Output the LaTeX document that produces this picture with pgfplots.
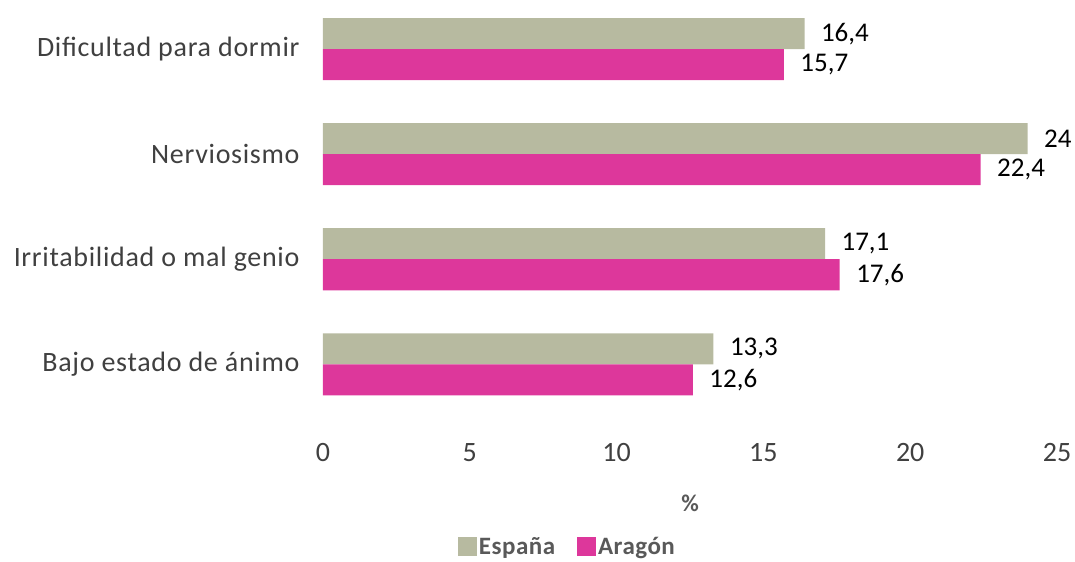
\documentclass[border=0pt]{standalone}
\usepackage{fontspec}
\setmainfont{Carlito}
\newfontfamily\catfont[LetterSpace=2.5]{Carlito}
\newfontfamily\legfont[LetterSpace=2]{Carlito}
\usepackage{pgfplots}
\pgfplotsset{compat=1.18}
\usetikzlibrary{calc}
\definecolor{espana}{RGB}{183,186,160}
\definecolor{aragon}{RGB}{221,55,155}
\definecolor{txt}{RGB}{64,64,64}
\definecolor{legtxt}{RGB}{89,89,89}
\begin{document}
\begin{tikzpicture}
\begin{axis}[
  name=ax,
  scale only axis,
  width=734bp, height=414.75bp,
  xbar, bar width=31bp,
  xmin=0, xmax=25,
  ymin=-0.5, ymax=3.45,
  xtick={0,5,10,15,20,25},
  ytick={0,1,2,3},
  yticklabels={Bajo estado de ánimo, Irritabilidad o mal genio, Nerviosismo, Dificultad para dormir},
  axis line style={draw=none},
  major tick length=0pt,
  xticklabel style={font=\fontsize{28bp}{32bp}\selectfont, text=txt, yshift=-23bp},
  yticklabel style={font=\catfont\fontsize{28bp}{32bp}\selectfont, text=txt, xshift=-20bp},
  /pgf/number format/assume math mode=true,
  xlabel={\textbf{\%}},
  xlabel style={at={(axis description cs:0.5,-0.2086)}, anchor=center, font=\fontsize{24bp}{28bp}\selectfont, text=legtxt},
  nodes near coords,
  nodes near coords style={font=\fontsize{27bp}{30bp}\selectfont, text=black, anchor=west, xshift=13bp},
  /pgf/number format/use comma,
  legend columns=2,
  legend style={draw=none, at={(axis description cs:0.333,-0.314)}, anchor=center, font=\legfont\bfseries\fontsize{25bp}{28bp}\selectfont, text=legtxt, /tikz/every even column/.append style={column sep=20bp}},
  legend image code/.code={\fill[#1] (0bp,-9bp) rectangle (19bp,10bp);},
]
\addplot[fill=espana, draw=none, bar shift=15.5bp] coordinates {(13.3,0) (17.1,1) (24,2) (16.4,3)};
\addplot[fill=aragon, draw=none, bar shift=-15.5bp] coordinates {(12.6,0) (17.6,1) (22.4,2) (15.7,3)};
\legend{España, Aragón}
\end{axis}
\pgfresetboundingbox
\path ($(ax.north west)+(-323bp,2bp)$) rectangle ++(1075bp,-562bp);
\end{tikzpicture}
\end{document}
